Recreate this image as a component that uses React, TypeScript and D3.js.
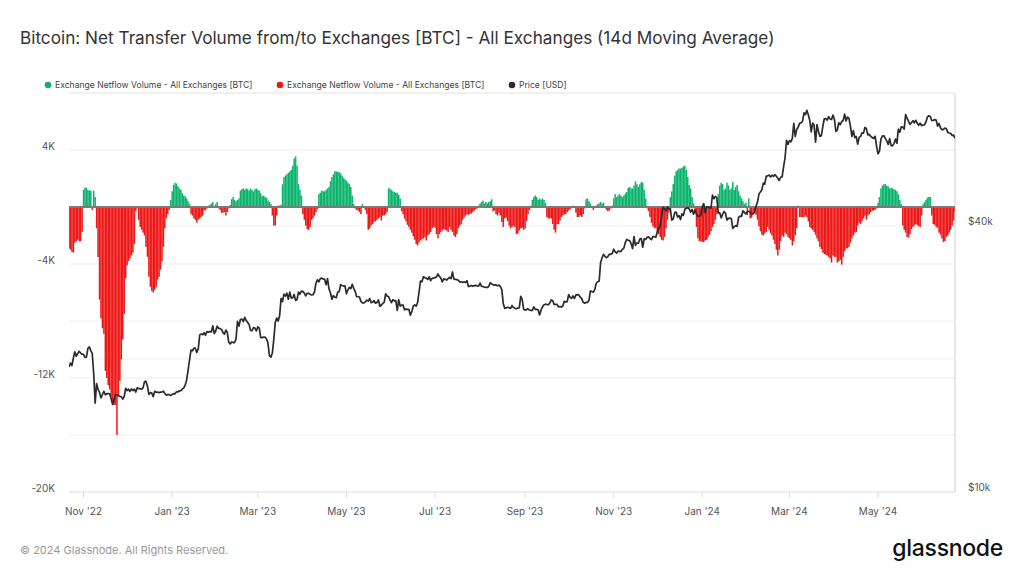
import React from 'react';
import * as d3 from 'd3';

// ---------- DATA ----------
const startDate = '2022-10-22';
const endDate = '2024-06-23';

// Exchange netflow, 14d MA, thousands of BTC (daily, Oct 22 2022 -> Jun 23 2024)
const netflow2022 = [
  // Oct 22-31
  -2.9, -3.0, -3.15, -3.2, -2.5, -2.4, -2.3, -2.4, -2.4, -1.75,
  // Nov
  1.2, 1.36, 1.35, 1.2, 1.15, 1.15, -0.2, 1.15, 0.7, -1.5, -3.5, -6.5, -7.8, -8.5, -8.9, -11.5, -12.0, -12.5, -12.8, -13.3,
  -13.6, -13.9, -13.9, -16.0, -13.2, -12.2, -10.7, -9.3, -7.5, -5.0,
  // Dec
  -4.1, -3.8, -3.6, -3.4, -3.2, -2.6, -0.3, -0.1, -0.9, -1.4, -1.6, -1.8, -2.0, -2.8, -3.5, -4.9, -5.6, -5.9, -6.0, -5.8,
  -5.6, -5.1, -4.9, -4.4, -3.8, -2.8, -1.5, -0.8, -0.5, -0.2, 0.5,
];
const netflow2023 = [
  // Jan
  1.1, 1.55, 1.7, 1.65, 1.45, 1.3, 1.2, 0.95, 0.8, 0.75, 0.6, 0.4, 0.2, -0.5, -0.6, -0.8, -0.9, -1.1, -0.9, -0.8,
  -0.7, -0.6, -0.25, -0.2, -0.1, 0.1, 0.15, 0.25, 0.35, -0.05, 0.2,
  // Feb
  0.35, -0.1, -0.2, -0.4, -0.4, -0.35, -0.6, -0.35, -0.1, 0.15, 0.55, 0.7, 0.5, 0.4, 0.5, 0.6, 1.15, 1.25, 1.3, 1.2,
  1.3, 1.25, 1.15, 1.3, 1.2, 1.1, 1.25, 1.3,
  // Mar
  1.2, 1.15, 0.95, 0.75, 0.8, 0.7, 0.65, 0.45, 0.35, 0.2, -0.6, -1.3, -1.3, -0.6, 0.1, 0.1, 0.15, 1.6, 2.1, 2.2,
  2.3, 2.4, 2.5, 2.6, 2.9, 3.4, 3.55, 2.9, 1.6, 1.2, 0.8,
  // Apr
  -0.5, -0.9, -1.3, -1.55, -1.6, -1.4, -0.9, -0.8, -0.6, -0.35, -0.15, 0.9, 1.0, 1.15, 1.1, 1.1, 1.2, 1.3, 1.4, 1.8,
  2.1, 2.3, 2.5, 2.5, 2.45, 2.45, 2.35, 2.2, 2.05, 1.95,
  // May
  1.85, 1.7, 1.6, 1.4, 0.8, 0.2, -0.1, -0.2, -0.25, -0.35, -0.5, 0.2, 0.05, -0.2, -0.5, -1.6, -1.5, -1.3, -1.2, -1.05,
  -1.0, -0.9, -0.8, -0.7, -0.95, -0.6, -0.6, -0.5, -0.35, 1.3, 1.3,
  // Jun
  1.2, 1.1, 1.05, 1.0, 1.0, 0.85, 0.6, -0.3, -0.5, -0.8, -1.0, -1.25, -1.4, -1.6, -1.8, -2.05, -2.3, -2.6, -2.7, -2.5,
  -2.35, -2.25, -2.2, -2.1, -2.35, -2.0, -1.9, -1.75, -1.5, -1.4,
  // Jul
  -1.45, -1.9, -2.2, -1.9, -1.75, -1.65, -1.55, -1.6, -1.65, -1.75, -1.4, -1.6, -1.75, -2.0, -2.1, -1.9, -1.5, -1.3, -1.2, -0.9,
  -0.75, -0.6, -0.5, -0.55, -0.5, -0.45, -0.35, -0.25, -0.15, -0.1, 0.1,
  // Aug
  0.25, 0.35, 0.45, 0.25, 0.35, 0.25, 0.35, 0.4, 0.55, -0.3, -0.25, -0.5, -0.6, -0.4, -0.6, -1.05, -1.4, -0.8, -0.75, -1.0,
  -1.3, -1.5, -1.4, -1.3, -1.4, -1.9, -1.85, -1.65, -1.5, -1.45, -1.6,
  // Sep
  -1.5, -1.0, -0.5, -0.2, 0.1, 0.5, 0.7, 0.8, 0.7, 0.5, 0.6, 0.5, 0.6, 0.5, 0.3, -0.7, -0.8, -0.8, -0.8, -1.2,
  -1.6, -1.8, -1.2, -1.2, -0.95, -0.7, -0.6, -0.5, -0.5, -0.35,
  // Oct
  -0.25, -0.15, 0.05, 0.1, 0.05, -0.4, -0.7, -0.7, -0.6, -0.7, -0.5, -0.1, 0.55, 0.6, 0.4, 0.25, 0.05, -0.2, -0.05, 0.1,
  0.2, 0.25, 0.35, 0.25, 0.3, 0.0, -0.2, -0.3, -0.25, -0.1, 0.1,
  // Nov
  0.6, 0.9, 0.7, 0.8, 0.9, 0.8, 0.7, 0.8, 0.95, 1.05, 1.35, 1.4, 1.3, 1.3, 1.5, 1.8, 1.6, 1.4, 1.6, 1.75,
  1.7, 1.2, 0.6, -0.1, -0.3, -0.7, -1.1, -1.35, -1.45, -1.5,
  // Dec
  -1.8, -1.9, -2.1, -2.3, -2.35, -2.1, -1.5, -0.9, -0.4, 0.7, 1.1, 1.6, 2.2, 2.5, 2.6, 2.7, 2.7, 2.75, 2.85, 2.9,
  2.6, 2.1, 1.55, 1.3, 0.7, 0.25, -0.4, -1.4, -2.2, -2.4, -2.4,
];
const netflow2024 = [
  // Jan
  -2.45, -2.45, -2.35, -2.3, -2.1, -1.95, -1.7, -1.4, -1.2, -0.9, -0.5, 0.9, 1.5, 1.7, 1.6, 1.2, 1.3, 1.7, 1.5, 1.2,
  1.3, 1.75, 1.2, 1.4, 1.55, 1.1, 0.8, 0.6, 0.4, 0.2, 0.3,
  // Feb
  -0.55, 0.6, -0.8, -0.75, -0.5, -0.45, -0.55, -0.9, -1.35, -1.7, -1.95, -2.0, -1.85, -1.75, -1.4, -1.6, -1.85, -2.0, -2.3, -2.6,
  -3.0, -3.4, -3.0, -2.4, -2.0, -2.1, -1.8, -1.9, -2.1,
  // Mar
  -2.2, -2.3, -2.7, -2.4, -2.0, -1.5, 0.1, -0.7, -0.7, -0.7, -0.7, -0.6, -0.7, -1.0, -1.4, -1.5, -1.6, -1.75, -1.95, -2.2,
  -2.4, -2.8, -2.95, -3.2, -3.3, -3.35, -3.4, -3.5, -3.6, -3.9, -3.4,
  // Apr
  -3.5, -3.5, -3.9, -3.8, -3.7, -4.05, -3.5, -3.1, -2.9, -2.9, -2.8, -2.5, -2.2, -2.0, -1.8, -1.75, -1.3, -1.1, -1.2, -1.0,
  -0.8, -0.6, -0.9, -0.6, -0.5, -0.35, -0.25, -0.25, -0.2, -0.1,
  // May
  0.3, 0.7, 1.3, 1.5, 1.6, 1.6, 1.5, 1.45, 1.3, 1.35, 1.3, 1.25, 1.2, 1.1, 0.9, 0.5, 0.2, -1.3, -1.6, -1.8,
  -2.1, -2.15, -1.9, -1.55, -1.4, -1.3, -1.2, -1.25, -1.35, -1.4, -0.6,
  // Jun 1-23
  0.2, 0.35, 0.5, 0.65, 0.7, 0.7, -0.6, -1.2, -1.25, -1.4, -1.45, -1.8, -1.95, -2.2, -2.45, -2.4, -2.1, -2.0, -1.8, -1.6,
  -1.3, -0.95, -0.3,
];

// BTC price, thousands of USD (daily)
const price2022 = [
  // Oct 22-31
  19.2, 19.57, 19.33, 20.09, 20.77, 20.29, 20.59, 20.82, 20.63, 20.5,
  // Nov
  20.48, 20.16, 20.21, 21.15, 21.3, 20.9, 20.6, 18.54, 15.88, 17.59, 17.07, 16.81, 16.33, 16.62, 16.9, 16.6, 16.69, 16.7, 16.68, 16.28,
  15.78, 16.19, 16.6, 16.6, 16.52, 16.46, 16.44, 16.22, 16.44, 17.17,
  // Dec
  16.97, 17.09, 16.89, 17.11, 16.97, 17.09, 16.84, 17.22, 17.13, 17.13, 17.09, 17.21, 17.78, 17.8, 17.36, 16.63, 16.78, 16.74, 16.44, 16.9,
  16.82, 16.83, 16.78, 16.84, 16.83, 16.92, 16.71, 16.55, 16.63, 16.6, 16.54,
];
const price2023 = [
  // Jan
  16.63, 16.69, 16.68, 16.86, 16.84, 16.95, 16.95, 17.09, 17.2, 17.45, 17.94, 18.85, 19.93, 20.95, 20.87, 21.17, 21.16, 20.69, 21.09, 22.68,
  22.78, 22.71, 22.93, 22.63, 23.06, 23.01, 23.08, 23.03, 23.77, 22.84, 23.14,
  // Feb
  23.73, 23.49, 23.43, 23.33, 22.94, 22.76, 23.26, 22.96, 21.8, 21.63, 21.86, 21.79, 21.79, 22.2, 24.33, 23.74, 24.57, 24.63, 24.3, 24.84,
  24.44, 24.19, 23.95, 23.2, 23.17, 23.56, 23.49, 23.15,
  // Mar
  23.65, 23.48, 22.36, 22.35, 22.43, 22.41, 22.2, 21.7, 20.36, 20.19, 20.63, 22.16, 24.2, 24.75, 24.38, 25.05, 27.42, 26.97, 28.04, 27.77,
  28.18, 27.31, 28.33, 27.49, 27.49, 28.0, 27.14, 27.27, 28.35, 28.03, 28.48,
  // Apr
  28.45, 28.2, 27.79, 28.17, 28.17, 28.03, 27.92, 27.95, 28.33, 29.67, 30.23, 29.9, 30.4, 30.49, 30.32, 30.32, 29.45, 30.4, 28.82, 28.25,
  27.28, 27.82, 27.6, 27.53, 28.31, 28.42, 29.47, 29.34, 29.25, 29.27,
  // May
  28.09, 28.68, 29.03, 28.85, 29.53, 28.9, 28.45, 27.69, 27.66, 27.63, 27.0, 26.8, 26.78, 26.93, 27.19, 27.04, 27.4, 26.83, 26.89, 27.1,
  26.75, 26.85, 27.23, 26.33, 26.47, 26.72, 26.87, 28.09, 27.75, 27.7, 27.22,
  // Jun
  26.82, 27.25, 27.07, 27.12, 25.76, 27.24, 26.35, 26.5, 26.48, 25.85, 25.94, 25.9, 25.92, 25.12, 25.58, 26.33, 26.51, 26.34, 26.84, 28.33,
  30.03, 29.91, 30.7, 30.55, 30.48, 30.27, 30.69, 30.09, 30.45, 30.48,
  // Jul
  30.59, 30.62, 31.16, 30.77, 30.51, 29.9, 30.35, 30.29, 30.17, 30.41, 30.62, 30.39, 31.48, 30.32, 30.3, 30.25, 30.15, 29.86, 29.91, 29.8,
  29.9, 29.79, 30.08, 29.18, 29.23, 29.35, 29.21, 29.32, 29.36, 29.28, 29.23,
  // Aug
  29.7, 29.19, 29.18, 29.07, 29.05, 29.04, 29.18, 29.77, 29.58, 29.44, 29.4, 29.42, 29.28, 29.41, 29.17, 28.7, 26.66, 26.05, 26.1, 26.19,
  26.12, 26.04, 26.43, 26.16, 26.06, 26.0, 26.09, 26.1, 27.73, 27.3, 25.93,
  // Sep
  25.8, 25.87, 25.97, 25.81, 25.78, 25.75, 26.24, 25.9, 25.9, 25.84, 25.16, 25.83, 26.23, 26.54, 26.61, 26.57, 26.53, 26.76, 27.21, 27.13,
  26.57, 26.58, 26.58, 26.25, 26.3, 26.22, 26.37, 27.02, 26.91, 26.97,
  // Oct
  27.98, 27.59, 27.43, 27.79, 27.41, 27.95, 27.97, 27.94, 27.6, 27.39, 26.87, 26.76, 26.86, 26.86, 27.16, 28.52, 28.42, 28.33, 28.72, 29.68,
  29.92, 29.99, 33.09, 33.9, 34.5, 34.16, 33.91, 34.09, 34.54, 34.5, 34.67,
  // Nov
  35.44, 34.94, 34.73, 35.08, 35.05, 35.04, 35.42, 35.65, 36.7, 37.31, 37.14, 37.06, 36.49, 35.55, 37.86, 36.15, 36.6, 36.57, 37.39, 37.47,
  35.81, 37.43, 37.29, 37.72, 37.8, 37.48, 37.25, 37.83, 37.85, 37.71,
  // Dec
  38.69, 39.47, 39.98, 41.98, 44.08, 43.75, 43.29, 44.17, 43.73, 43.79, 41.24, 41.45, 42.89, 43.02, 41.93, 42.24, 41.36, 42.62, 42.27, 43.65,
  43.86, 43.99, 43.74, 43.02, 43.61, 42.52, 43.44, 42.58, 42.07, 42.14, 42.28,
];
const price2024 = [
  // Jan
  44.18, 44.94, 42.85, 44.18, 44.16, 43.97, 43.93, 46.97, 46.12, 46.63, 46.37, 42.85, 42.84, 41.73, 42.51, 43.15, 42.74, 41.26, 41.62, 41.67,
  41.55, 39.51, 39.85, 40.08, 39.93, 41.82, 42.12, 42.03, 43.3, 42.94, 42.58,
  // Feb
  43.08, 43.19, 43.0, 42.58, 42.66, 43.08, 44.32, 45.3, 47.15, 47.77, 48.29, 50.0, 49.74, 51.83, 51.94, 52.16, 51.66, 52.12, 51.78, 52.28,
  51.84, 51.3, 50.73, 51.57, 51.73, 54.52, 57.08, 62.5, 61.2,
  // Mar
  62.44, 62.03, 63.17, 68.33, 63.8, 66.11, 66.93, 68.3, 68.5, 69.02, 72.12, 71.48, 73.08, 71.4, 69.4, 65.32, 68.39, 67.61, 61.93, 67.84,
  65.49, 63.78, 64.06, 67.23, 69.96, 69.99, 69.46, 70.74, 69.9, 69.65, 71.33,
  // Apr
  69.7, 65.45, 65.98, 68.5, 67.84, 68.9, 69.36, 71.62, 69.14, 70.59, 70.06, 67.2, 63.8, 65.74, 63.42, 63.79, 61.28, 63.47, 63.82, 64.99,
  64.93, 66.84, 66.41, 64.29, 64.5, 63.77, 63.46, 63.12, 63.84, 60.64,
  // May
  58.25, 59.12, 62.89, 63.89, 64.03, 63.16, 62.33, 61.19, 63.05, 60.79, 60.79, 61.45, 62.9, 61.55, 66.27, 65.23, 67.05, 66.94, 66.28, 71.45,
  70.14, 69.12, 67.93, 68.53, 69.26, 68.51, 69.39, 68.37, 67.63, 68.35, 67.49,
  // Jun 1-23
  67.71, 67.75, 68.8, 70.57, 71.08, 70.76, 69.34, 69.31, 69.65, 69.5, 67.32, 68.24, 66.76, 66.01, 66.19, 66.64, 66.49, 65.15, 64.96, 64.83,
  64.1, 64.25, 63.18,
];

const leftTickValues = [4, -4, -12, -20];
const leftTickLabels = ['4K', '-4K', '-12K', '-20K'];
const leftGridValues = [8, 4, -4, -8, -12, -16, -20];
const rightTickValues = [40, 10];
const rightTickLabels = ['$40k', '$10k'];
const rightGridValues = [20, 40];
const xTickDates = ['2022-11-01', '2023-01-01', '2023-03-01', '2023-05-01', '2023-07-01', '2023-09-01', '2023-11-01', '2024-01-01', '2024-03-01', '2024-05-01'];
const xTickLabels = ["Nov '22", "Jan '23", "Mar '23", "May '23", "Jul '23", "Sep '23", "Nov '23", "Jan '24", "Mar '24", "May '24"];

const legendItems = [
  { label: 'Exchange Netflow Volume - All Exchanges [BTC]', color: '#0bb36d' },
  { label: 'Exchange Netflow Volume - All Exchanges [BTC]', color: '#ee1616' },
  { label: 'Price [USD]', color: '#2b2b2b' },
];

const title = 'Bitcoin: Net Transfer Volume from/to Exchanges [BTC] - All Exchanges (14d Moving Average)';

// ---------- CHART ----------
const W = 1024;
const H = 576;
const M = { left: 69, right: 955, top: 93, bottom: 492 };
const FONT = 'Inter, "Noto Sans", sans-serif';
const GREEN = '#0bb36d';
const RED = '#ee1616';

export default function App() {
  const parse = d3.utcParse('%Y-%m-%d');
  const start = parse(startDate) as Date;
  const end = parse(endDate) as Date;
  const dates = d3.utcDay.range(start, d3.utcDay.offset(end, 1));
  const netflow = [...netflow2022, ...netflow2023, ...netflow2024];
  const price = [...price2022, ...price2023, ...price2024];
  const n = Math.min(dates.length, netflow.length, price.length);

  const x = d3.scaleUtc().domain([start, end]).range([M.left, M.right]);
  const y = d3.scaleLinear().domain([-20, 8]).range([M.bottom, M.top]);
  const yP = d3.scaleLog().domain([10, 80]).range([M.bottom, M.top]);

  const bw = x(dates[1]) - x(dates[0]);
  const bars = d3.range(n).map((i) => {
    const v = netflow[i];
    const cx = x(dates[i]);
    const y0 = y(0);
    const y1 = y(v);
    return { key: i, x: cx - bw / 2, w: bw + 0.05, y: Math.min(y0, y1), h: Math.abs(y1 - y0), color: v >= 0 ? GREEN : RED };
  });

  const line = d3
    .line<number>()
    .x((i) => x(dates[i]))
    .y((i) => yP(price[i]));
  const pricePath = line(d3.range(n)) || '';

  return (
    <svg width={W} height={H} style={{ position: 'absolute', left: 0, top: 0, background: '#fff' }} fontFamily={FONT}>
      <rect x={0} y={0} width={W} height={H} fill="#fff" />
      <text x={20} y={44} fontSize={17.2} fill="#333" fontWeight={400}>{title}</text>

      {legendItems.map((d, i) => (
        <g key={i} transform={`translate(${48 + i * 232},85)`}>
          <circle cx={0} cy={0} r={3.3} fill={d.color} />
          <text x={7} y={3} fontSize={8.6} fill="#444">{d.label}</text>
        </g>
      ))}

      <defs>
        <clipPath id="plotclip">
          <rect x={M.left} y={M.top} width={M.right - M.left} height={M.bottom - M.top} />
        </clipPath>
      </defs>

      {/* grid */}
      {leftGridValues.map((v) => (
        <line key={'lg' + v} x1={M.left} x2={M.right} y1={y(v)} y2={y(v)} stroke={v === 8 ? '#e3e3e3' : '#efefef'} strokeWidth={1} />
      ))}
      {rightGridValues.map((v) => (
        <line key={'rg' + v} x1={M.left} x2={M.right} y1={yP(v)} y2={yP(v)} stroke="#efefef" strokeWidth={1} />
      ))}
      <line x1={M.left} x2={M.right} y1={M.bottom} y2={M.bottom} stroke="#e3e3e3" />
      <line x1={M.right} x2={M.right} y1={M.top} y2={M.bottom} stroke="#cfcfcf" />

      {xTickDates.map((s) => {
        const xx = x(parse(s) as Date);
        return <line key={'xt' + s} x1={xx} x2={xx} y1={M.bottom} y2={M.bottom + 6} stroke="#dcdcdc" />;
      })}

      <g clipPath="url(#plotclip)">
        {bars.map((b) => (
          <rect key={b.key} x={b.x} y={b.y} width={b.w} height={b.h} fill={b.color} />
        ))}
        <line x1={M.left} x2={M.right} y1={y(0)} y2={y(0)} stroke="#7a7a7a" strokeWidth={2} />
        <path d={pricePath} fill="none" stroke="#2b2b2b" strokeWidth={1.7} strokeLinejoin="round" />
      </g>

      {leftTickValues.map((v, i) => (
        <text key={'lt' + v} x={55} y={y(v)} textAnchor="end" fontSize={10} fill="#555">{leftTickLabels[i]}</text>
      ))}
      {rightTickValues.map((v, i) => (
        <text key={'rt' + v} x={968} y={yP(v) - 1} fontSize={10} fill="#555">{rightTickLabels[i]}</text>
      ))}
      {xTickDates.map((s, i) => (
        <text key={'xl' + s} x={x(parse(s) as Date)} y={515} textAnchor="middle" fontSize={10} fill="#555">{xTickLabels[i]}</text>
      ))}

      <text x={20} y={554} fontSize={11} fill="#999">© 2024 Glassnode. All Rights Reserved.</text>
      <text x={1003} y={556} textAnchor="end" fontSize={23} fill="#111" fontWeight={500} letterSpacing={-0.3}>glassnode</text>
    </svg>
  );
}
